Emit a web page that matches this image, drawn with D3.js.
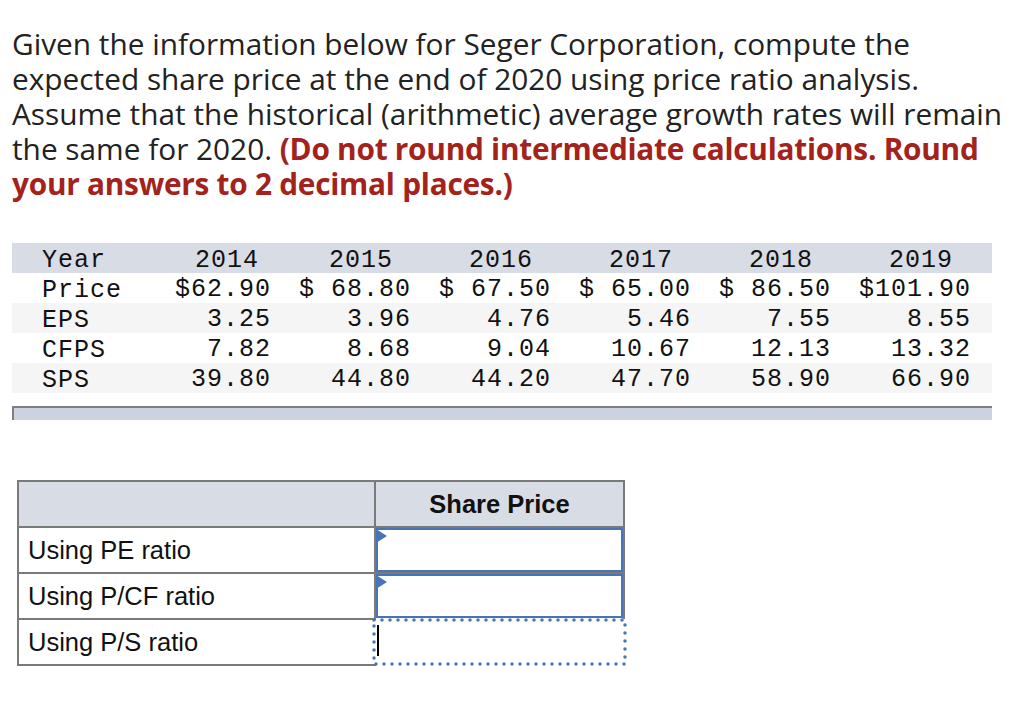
<!DOCTYPE html>
<html>
<head>
<meta charset="utf-8">
<script src="https://cdn.jsdelivr.net/npm/d3@7"></script>
<style>
  html, body { margin: 0; padding: 0; background: #fff; }
</style>
</head>
<body>
<div id="chart"></div>
<script>
// Question text, one entry per line. Red bold parts kept apart.
const introLines = [
  ["Given the information below for Seger Corporation, compute the", ""],
  ["expected share price at the end of 2020 using price ratio analysis.", ""],
  ["Assume that the historical (arithmetic) average growth rates will remain", ""],
  ["the same for 2020. ", "(Do not round intermediate calculations. Round"],
  ["", "your answers to 2 decimal places.)"]
];

const years = [2014, 2015, 2016, 2017, 2018, 2019];
const rowLabels = ["Price", "EPS", "CFPS", "SPS"];
const price = [62.90, 68.80, 67.50, 65.00, 86.50, 101.90];
const eps = [3.25, 3.96, 4.76, 5.46, 7.55, 8.55];
const cfps = [7.82, 8.68, 9.04, 10.67, 12.13, 13.32];
const sps = [39.80, 44.80, 44.20, 47.70, 58.90, 66.90];

const methods = ["Using PE ratio", "Using P/CF ratio", "Using P/S ratio"];
const answerHeader = "Share Price";

const width = 1036,
  height = 706;

const svg = d3.select("#chart")
  .append("svg")
  .attr("width", width)
  .attr("height", height)
  .style("display", "block");

svg.append("rect")
  .attr("width", width)
  .attr("height", height)
  .attr("fill", "#fff");

// ---- paragraph ----
const para = svg.append("g")
  .attr("font-family", "'Open Sans', 'Noto Sans', sans-serif");

let fontSize = 24;
const lineY = d3.scaleLinear().domain([0, 1]).range([55, 90]);

const lines = para.selectAll("text")
  .data(introLines)
  .enter().append("text")
  .attr("x", 12)
  .attr("y", (d, i) => lineY(i))
  .attr("font-size", fontSize);

lines.append("tspan")
  .attr("fill", "#222")
  .text(d => d[0]);

lines.append("tspan")
  .attr("fill", "#a3221c")
  .attr("font-weight", "bold")
  .attr("letter-spacing", -0.25)
  .text(d => d[1]);

// fit the first line to the width seen in the picture
const firstLen = lines.node().getComputedTextLength();
fontSize = fontSize * 898 / firstLen;
lines.attr("font-size", fontSize);

// ---- data table ----
const colRight = d3.scaleLinear().domain([0, years.length - 1]).range([271, 971]);
const rowY = d3.scaleBand()
  .domain(["Year"].concat(rowLabels))
  .range([243, 393]);

const rows = [price, eps, cfps, sps];
const fmt = d3.format(".2f");

const table = svg.append("g")
  .attr("font-family", "'Liberation Mono', 'Courier New', monospace")
  .attr("font-size", 25)
  .attr("letter-spacing", 1)
  .attr("fill", "#111");

// row bands
table.selectAll("rect.band")
  .data(rowY.domain())
  .enter().append("rect")
  .attr("class", "band")
  .attr("x", 12)
  .attr("width", 980)
  .attr("y", d => rowY(d))
  .attr("height", rowY.bandwidth())
  .attr("fill", (d, i) => i === 0 ? "#d8dce4" : (i % 2 === 0 ? "#f5f5f5" : "#fff"));

// row labels
table.selectAll("text.label")
  .data(rowY.domain())
  .enter().append("text")
  .attr("class", "label")
  .attr("x", 42)
  .attr("y", d => rowY(d) + rowY.bandwidth() / 2 + 9)
  .text(d => d);

// years
table.selectAll("text.year")
  .data(years)
  .enter().append("text")
  .attr("class", "year")
  .attr("text-anchor", "end")
  .attr("x", (d, i) => colRight(i) - (i === 0 ? 12 : 18))
  .attr("y", rowY("Year") + rowY.bandwidth() / 2 + 9)
  .text(d => d);

// values
rows.forEach((vals, r) => {
  table.selectAll("text.v" + r)
    .data(vals)
    .enter().append("text")
    .attr("class", "v" + r)
    .attr("text-anchor", "end")
    .attr("x", (d, i) => colRight(i))
    .attr("y", rowY(rowLabels[r]) + rowY.bandwidth() / 2 + 8)
    .style("white-space", "pre")
    .text((d, i) => {
      if (r !== 0) return fmt(d);
      return i === 0 ? "$" + fmt(d) : "$" + fmt(d).padStart(6, " ");
    });
});

// footer strip under the table
svg.append("rect")
  .attr("x", 12)
  .attr("y", 406)
  .attr("width", 980)
  .attr("height", 14)
  .attr("fill", "#cdd3de");

svg.append("path")
  .attr("d", "M13,420V407H992")
  .attr("fill", "none")
  .attr("stroke", "#7d7f83")
  .attr("stroke-width", 2);

// ---- answer table ----
const ans = svg.append("g")
  .attr("font-family", "'Liberation Sans', Arial, sans-serif")
  .attr("font-size", 25.5)
  .attr("fill", "#111");

const ansY = d3.scaleBand()
  .domain(["head"].concat(methods))
  .range([481, 665]);

const leftX = 18,
  midX = 375,
  rightX = 624;

// header fill
ans.append("rect")
  .attr("x", leftX)
  .attr("y", ansY("head"))
  .attr("width", rightX - leftX)
  .attr("height", ansY.bandwidth())
  .attr("fill", "#d8dce4");

ans.append("text")
  .attr("x", (midX + rightX) / 2)
  .attr("y", ansY("head") + ansY.bandwidth() / 2 + 9)
  .attr("text-anchor", "middle")
  .attr("font-weight", "bold")
  .text(answerHeader);

ans.selectAll("text.method")
  .data(methods)
  .enter().append("text")
  .attr("class", "method")
  .attr("x", 28)
  .attr("y", d => ansY(d) + ansY.bandwidth() / 2 + 9)
  .text(d => d);

// grid lines
const gridColor = "#7a7a7a";
ans.append("rect")
  .attr("x", leftX)
  .attr("y", ansY("head"))
  .attr("width", midX - leftX)
  .attr("height", 665 - ansY("head"))
  .attr("fill", "none")
  .attr("stroke", gridColor)
  .attr("stroke-width", 2);

ans.selectAll("line.row")
  .data(methods)
  .enter().append("line")
  .attr("class", "row")
  .attr("x1", leftX)
  .attr("x2", (d, i) => i === 2 ? midX : rightX)
  .attr("y1", d => ansY(d))
  .attr("y2", d => ansY(d))
  .attr("stroke", gridColor)
  .attr("stroke-width", 2);

ans.append("path")
  .attr("d", `M${midX},${ansY("head")}H${rightX}V${ansY(methods[2])}M${midX},${ansY("head")}V${ansY(methods[2])}`)
  .attr("fill", "none")
  .attr("stroke", gridColor)
  .attr("stroke-width", 2);

// input boxes
const blue = "#4a74b8";
methods.slice(0, 2).forEach(m => {
  ans.append("rect")
    .attr("x", midX + 2)
    .attr("y", ansY(m) + 2)
    .attr("width", rightX - midX - 4)
    .attr("height", ansY.bandwidth() - 4)
    .attr("fill", "#fff")
    .attr("stroke", blue)
    .attr("stroke-width", 2);

  ans.append("path")
    .attr("d", `M${midX + 1},${ansY(m) + 2}L${midX + 12},${ansY(m) + 9}L${midX + 1},${ansY(m) + 16}Z`)
    .attr("fill", blue);
});

// focused (dotted) box
const last = methods[2];
ans.append("rect")
  .attr("x", midX - 1)
  .attr("y", ansY(last) + 1)
  .attr("width", rightX - midX + 2)
  .attr("height", ansY.bandwidth() - 2)
  .attr("fill", "#fff")
  .attr("stroke", blue)
  .attr("stroke-width", 3.5)
  .attr("stroke-linecap", "round")
  .attr("stroke-dasharray", "0 8");

ans.append("line")
  .attr("x1", midX + 3)
  .attr("x2", midX + 3)
  .attr("y1", ansY(last) + 6)
  .attr("y2", ansY(last) + 37)
  .attr("stroke", "#000")
  .attr("stroke-width", 2);
</script>
</body>
</html>
